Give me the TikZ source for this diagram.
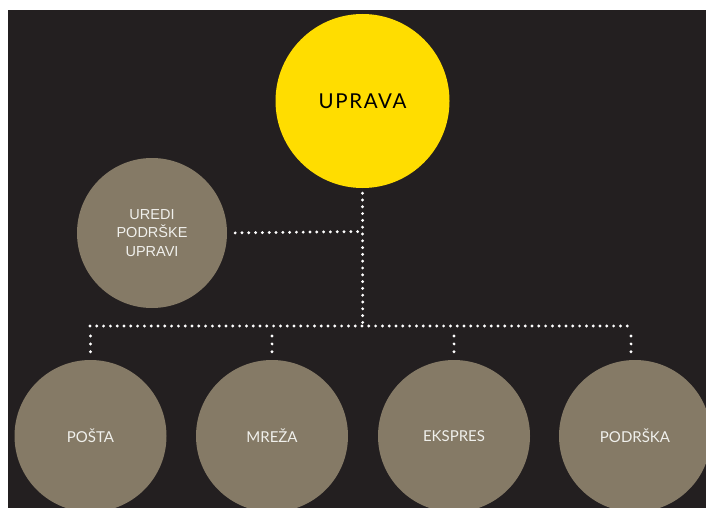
\documentclass[tikz,border=0pt]{standalone}
\usepackage{fontspec}
\usepackage{tikz}
\newfontfamily\labelfont{Lato}
\newfontfamily\spacedfont[LetterSpace=8]{Lato}
\newfontfamily\arialfont{Liberation Sans}
\definecolor{bgdark}{RGB}{35,31,32}
\definecolor{taupe}{RGB}{133,122,102}
\definecolor{sun}{RGB}{255,221,0}
\definecolor{offwhite}{RGB}{240,240,236}
\tikzstyle{unit} = [circle, fill=taupe, inner sep=0pt, minimum size=152pt,
    text=offwhite, font=\labelfont\fontsize{15}{18}\selectfont]
\tikzstyle{head} = [circle, fill=sun, inner sep=0pt, minimum size=174pt,
    text=black, font=\spacedfont\fontsize{20.5}{24}\selectfont]
\tikzstyle{staff} = [unit, minimum size=150pt, align=center,
    font=\arialfont\fontsize{14.5}{18.5}\selectfont]
\tikzstyle{dots} = [draw=white, line width=3.2pt, line cap=round,
    dash pattern=on 0pt off 6.8pt]
\tikzstyle{drop} = [dots, dash pattern=on 0pt off 7.9pt]

\begin{document}
\begin{tikzpicture}[x=1pt, y=-1pt]
  \useasboundingbox (0,0) rectangle (706,508);
  \fill[white] (0,0) rectangle (706,508);
  \fill[bgdark] (8,10) rectangle (706,508);
  % nodes
  \node [head] (uprava) at (362.5,101) {UPRAVA};
  \node [staff] (uredi) at (152,233) {UREDI\\PODRŠKE\\UPRAVI};
  \node [unit] (posta) at (90.5,436) {POŠTA};
  \node [unit] (mreza) at (272,436) {MREŽA};
  \node [unit] (ekspres) at (454,436) {EKSPRES};
  \node [unit] (podrska) at (635,436) {PODRŠKA};
  \coordinate (hub) at (362.7,231.5);
  \coordinate (bar) at (362.7,326);
  \coordinate (barL) at (90,326);
  \coordinate (barR) at (631,326);
  % connectors
  \path [dots, shorten <=5pt] (uprava.south) -- (bar);
  \path [dots, shorten <=8pt, shorten >=4pt] (uredi.east) -- (hub);
  \path [dots] (barL) -- (barR);
  \foreach \n in {posta, mreza, ekspres}
    \path [drop, shorten <=10pt, shorten >=8pt] (barL -| \n.north) -- (\n.north);
  \path [drop, shorten <=10pt, shorten >=8pt] (barR) -- (barR |- podrska.north);
\end{tikzpicture}
\end{document}
